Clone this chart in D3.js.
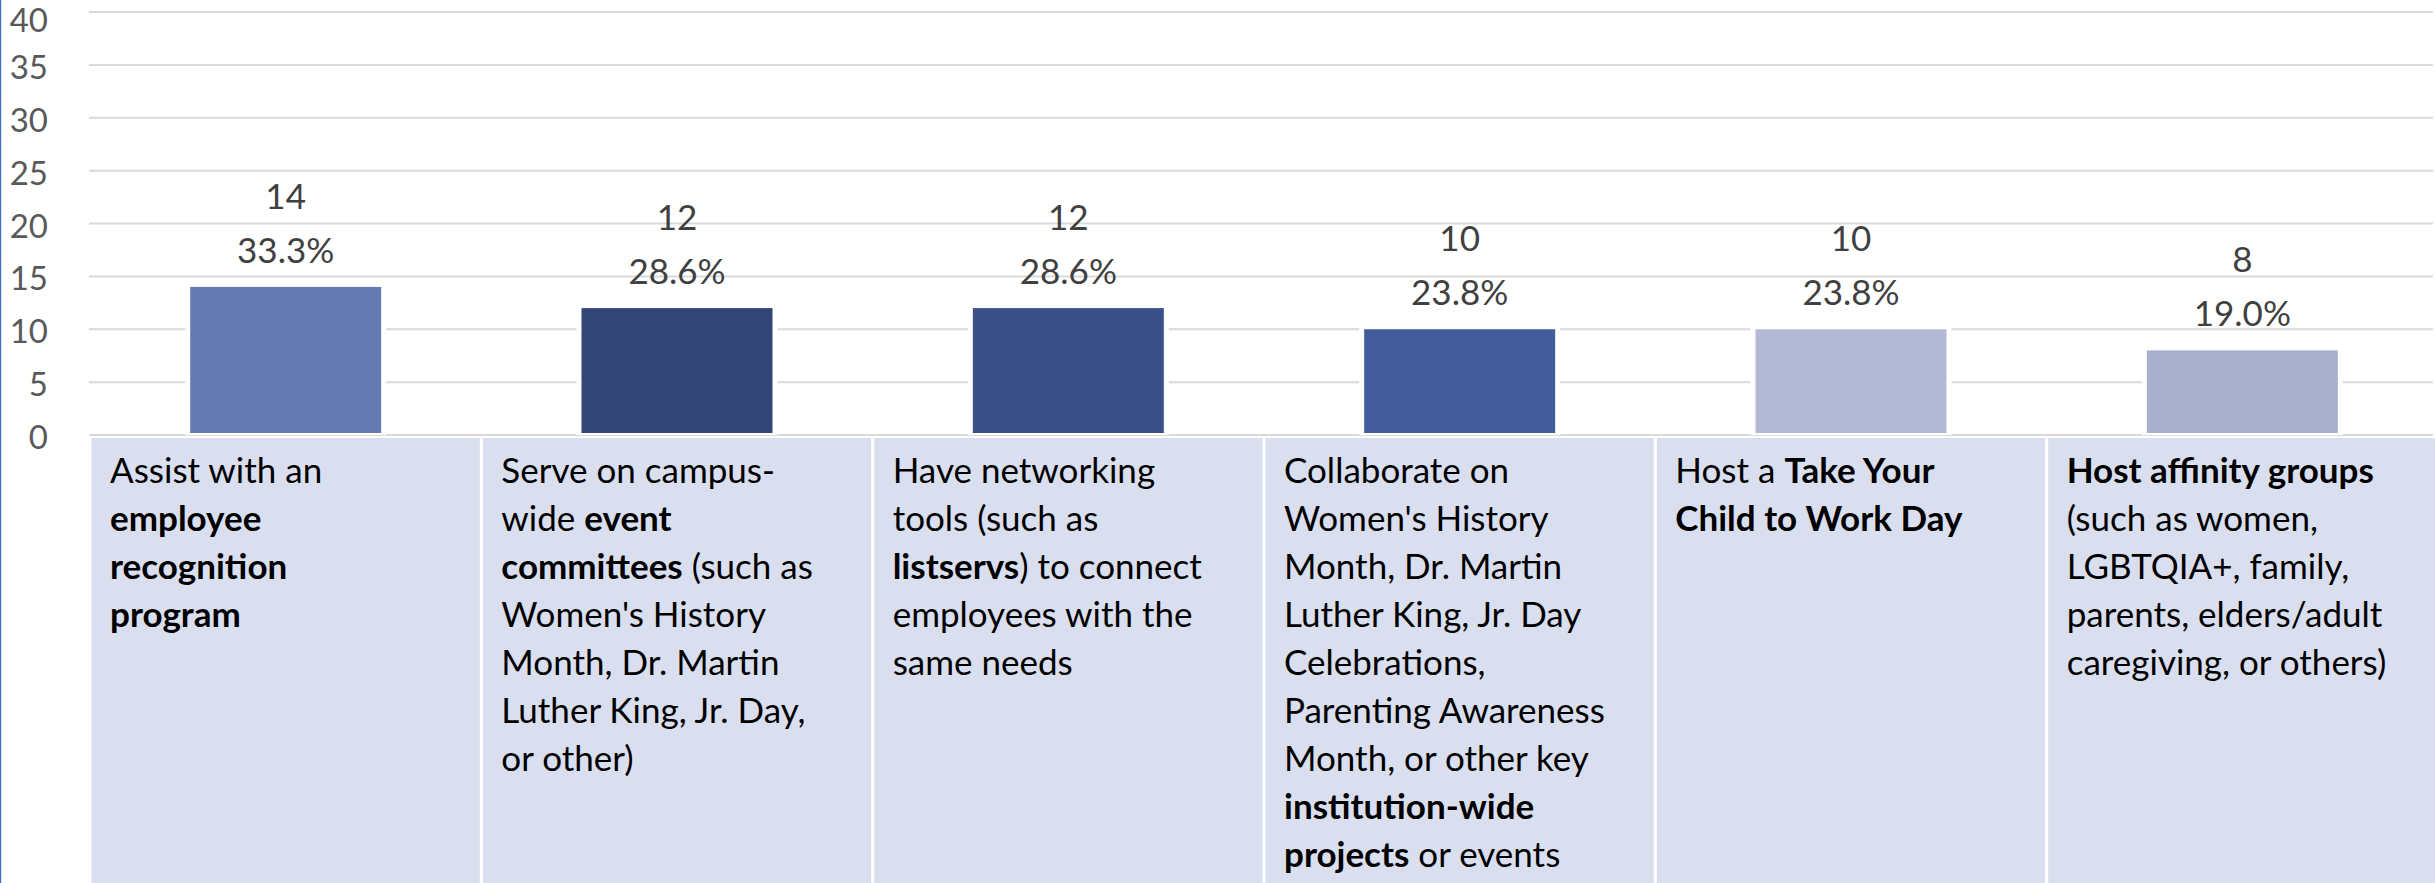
<!DOCTYPE html>
<html>
<head>
<meta charset="utf-8">
<script src="https://cdn.jsdelivr.net/npm/d3@7"></script>
<style>
  html, body { margin: 0; padding: 0; background: #fff; overflow: hidden; }
  svg { display: block; font-family: Lato, "Noto Sans", sans-serif; }
</style>
</head>
<body>
<div id="chart"></div>
<script>
// chart data
var categories = ['recognition', 'committees', 'networking', 'collaborate', 'childday', 'affinity'];
var counts = [14, 12, 12, 10, 10, 8];
var percents = ['33.3%', '28.6%', '28.6%', '23.8%', '23.8%', '19.0%'];
var yTicks = [0, 5, 10, 15, 20, 25, 30, 35, 40];
// category text, one entry per line, **...** = bold
var categoryLines = [
  ['Assist with an', '**employee**', '**recognition**', '**program**'],
  ['Serve on campus-', 'wide **event**', '**committees** (such as', "Women's History",
   'Month, Dr. Martin', 'Luther King, Jr. Day,', 'or other)'],
  ['Have networking', 'tools (such as', '**listservs**) to connect', 'employees with the',
   'same needs'],
  ['Collaborate on', "Women's History", 'Month, Dr. Martin', 'Luther King, Jr. Day',
   'Celebrations,', 'Parenting Awareness', 'Month, or other key', '**institution-wide**',
   '**projects** or events'],
  ['Host a **Take Your**', '**Child to Work Day**'],
  ['**Host affinity groups**', '(such as women,', 'LGBTQIA+, family,', 'parents, elders/adult',
   'caregiving, or others)']
];
var barColors = ['#667bb3', '#334574', '#3b5088', '#425c9c', '#b4bad6', '#a9b0cd'];

var w = 2435;
var h = 883;

var svg = d3.select('#chart').append('svg')
  .attr('width', w)
  .attr('height', h);

var xScale = d3.scaleBand()
  .domain(categories)
  .range([90, 2438])
  .paddingInner(0)
  .paddingOuter(0);

var yScale = d3.scaleLinear()
  .domain([0, 40])
  .range([435, 12]);

// gridlines
svg.append('g')
  .selectAll('line')
  .data(yTicks)
  .enter()
  .append('line')
  .attr('x1', 89)
  .attr('x2', 2433)
  .attr('y1', function(d) { return yScale(d); })
  .attr('y2', function(d) { return yScale(d); })
  .attr('stroke', '#d9d9d9')
  .attr('stroke-width', 2);

// y axis labels (top one nudged down so it isn't clipped)
svg.append('g')
  .selectAll('text')
  .data(yTicks)
  .enter()
  .append('text')
  .attr('x', 48)
  .attr('y', function(d) { return Math.max(yScale(d) + 14, 32); })
  .attr('text-anchor', 'end')
  .attr('font-size', 33)
  .attr('fill', '#595959')
  .text(function(d) { return d; });

// bars
var barW = 191;
var bars = svg.append('g')
  .selectAll('g')
  .data(counts)
  .enter()
  .append('g');

bars.append('rect')
  .attr('x', function(d, i) { return xScale(categories[i]) + xScale.bandwidth() / 2 - barW / 2 - 5; })
  .attr('y', function(d) { return yScale(d) - 3; })
  .attr('width', barW + 10)
  .attr('height', function(d) { return yScale(0) - yScale(d) + 3; })
  .attr('fill', '#fff');

bars.append('rect')
  .attr('x', function(d, i) { return xScale(categories[i]) + xScale.bandwidth() / 2 - barW / 2; })
  .attr('y', function(d) { return yScale(d); })
  .attr('width', barW)
  .attr('height', function(d) { return yScale(0) - 2 - yScale(d); })
  .attr('fill', function(d, i) { return barColors[i]; });

// data labels
bars.append('text')
  .attr('x', function(d, i) { return xScale(categories[i]) + xScale.bandwidth() / 2; })
  .attr('y', function(d) { return yScale(d) - 78; })
  .attr('text-anchor', 'middle')
  .attr('font-size', 35)
  .attr('fill', '#404040')
  .text(function(d) { return d; });

bars.append('text')
  .attr('x', function(d, i) { return xScale(categories[i]) + xScale.bandwidth() / 2; })
  .attr('y', function(d) { return yScale(d) - 24; })
  .attr('text-anchor', 'middle')
  .attr('font-size', 35)
  .attr('fill', '#404040')
  .text(function(d, i) { return percents[i]; });

// category boxes underneath
var boxTop = 438;
var boxes = svg.append('g')
  .selectAll('g')
  .data(categories)
  .enter()
  .append('g')
  .attr('transform', function(d) { return 'translate(' + xScale(d) + ',' + boxTop + ')'; });

boxes.append('rect')
  .attr('x', 1.5)
  .attr('y', 0)
  .attr('width', xScale.bandwidth() - 3)
  .attr('height', h - boxTop)
  .attr('fill', '#dadfef');

boxes.each(function(d, i) {
  var t = d3.select(this).append('text')
    .attr('font-size', 35)
    .attr('fill', '#000');
  categoryLines[i].forEach(function(line, li) {
    var parts = line.split('**');
    parts.forEach(function(p, pi) {
      if (p === '') return;
      var ts = t.append('tspan')
        .attr('font-weight', pi % 2 == 1 ? 'bold' : 'normal')
        .text(p);
      if (pi == 0 || (pi == 1 && parts[0] === '')) {
        ts.attr('x', 20).attr('y', 45 + li * 48);
      }
    });
  });
});

// thin blue line at left edge
svg.append('line')
  .attr('x1', 0.5).attr('x2', 0.5)
  .attr('y1', 0).attr('y2', h)
  .attr('stroke', '#4472c4')
  .attr('stroke-width', 1.5);
</script>
</body>
</html>
